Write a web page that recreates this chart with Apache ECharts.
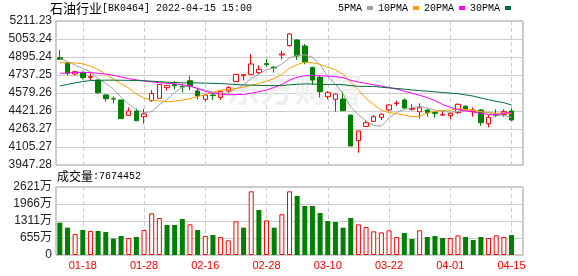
<!DOCTYPE html>
<html><head><meta charset="utf-8">
<script src="https://cdn.jsdelivr.net/npm/echarts@6/dist/echarts.min.js"></script>
<style>html,body{margin:0;padding:0;background:#fff}#c{width:578px;height:276px}</style>
</head><body><div id="c"></div>
<script>
const dates = ['01-13','01-14','01-17','01-18','01-19','01-20','01-21','01-24','01-25','01-26','01-27','01-28',
  '02-07','02-08','02-09','02-10','02-11','02-14','02-15','02-16','02-17','02-18','02-21','02-22','02-23','02-24','02-25','02-28',
  '03-01','03-02','03-03','03-04','03-07','03-08','03-09','03-10','03-11','03-14','03-15','03-16','03-17','03-18','03-21','03-22','03-23','03-24','03-25','03-28','03-29','03-30','03-31',
  '04-01','04-06','04-07','04-08','04-11','04-12','04-13','04-14','04-15'];
const opens  = [4889,4845,4746,4761,4717,4693,4562,4529,4518,4383,4421,4371,4512,4532,4626,4652,4638,4687,4597,4524,4562,4541,4597,4679,4731,4743,4758,4837,4807,4913,4995,5044,4992,4804,4717,4547,4524,4526,4386,4161,4286,4330,4366,4430,4488,4518,4436,4415,4430,4410,4386,4380,4407,4462,4415,4430,4310,4392,4392,4421];
const closes = [4875,4752,4766,4714,4723,4582,4529,4526,4354,4421,4336,4395,4576,4655,4646,4643,4632,4635,4553,4562,4556,4591,4626,4743,4740,4834,4787,4828,4799,4922,5097,4904,4848,4693,4591,4582,4570,4424,4114,4246,4318,4371,4392,4474,4491,4448,4442,4450,4404,4401,4392,4401,4480,4439,4430,4319,4366,4383,4415,4342];
const lows   = [4872,4734,4734,4699,4693,4570,4503,4488,4354,4383,4336,4310,4503,4532,4600,4611,4585,4605,4524,4503,4518,4518,4582,4679,4690,4743,4746,4810,4758,4875,4986,4869,4831,4649,4541,4524,4415,4424,4114,4055,4280,4325,4342,4424,4465,4442,4424,4354,4371,4363,4377,4348,4395,4430,4371,4292,4278,4371,4371,4336];
const highs  = [4957,4851,4775,4766,4752,4699,4570,4547,4518,4453,4444,4439,4605,4655,4649,4684,4658,4728,4620,4570,4576,4600,4640,4743,4743,4922,4822,4875,4810,4951,5103,5050,5009,4810,4737,4597,4575,4591,4386,4246,4342,4386,4401,4480,4512,4532,4482,4488,4436,4413,4430,4407,4488,4474,4453,4436,4386,4436,4436,4444];
// volume in 万
const volumes = [1246,1054,810,964,925,925,887,630,732,655,694,964,1606,1426,1157,1157,1388,1182,964,732,771,694,565,1298,1054,2454,1735,1336,1054,1568,2454,2274,1889,1889,1619,1311,1272,1054,1426,1182,1079,912,874,951,694,848,617,951,694,732,655,655,758,694,578,694,655,758,694,767];
const ma5  = [4883,4855,4825,4795,4766,4707,4663,4615,4543,4482,4433,4406,4416,4477,4522,4583,4630,4642,4621,4605,4588,4579,4578,4616,4651,4706,4746,4786,4797,4834,4887,4910,4914,4893,4827,4724,4657,4572,4456,4387,4334,4295,4288,4360,4409,4435,4449,4461,4447,4429,4418,4410,4416,4423,4428,4414,4407,4387,4383,4365];
const ma10 = [4845,4845,4843,4835,4815,4785,4745,4700,4660,4624,4570,4535,4516,4510,4502,4508,4518,4529,4549,4564,4586,4605,4610,4619,4629,4647,4663,4682,4707,4743,4797,4828,4850,4845,4830,4805,4783,4743,4674,4607,4529,4476,4430,4408,4398,4385,4372,4375,4404,4419,4427,4430,4438,4435,4428,4416,4408,4402,4403,4397];
const ma20 = [4752,4755,4760,4760,4758,4752,4746,4735,4720,4705,4695,4684,4676,4670,4665,4660,4652,4640,4618,4594,4578,4570,4563,4565,4566,4578,4591,4606,4628,4654,4692,4717,4731,4732,4730,4727,4723,4713,4691,4675,4663,4652,4640,4627,4614,4595,4578,4559,4539,4513,4478,4453,4434,4422,4413,4400,4390,4388,4403,4408];
const ma30 = [4641,4655,4668,4680,4688,4690,4692,4692,4691,4690,4689,4687,4683,4679,4674,4670,4669,4668,4668,4666,4664,4662,4658,4654,4650,4648,4646,4645,4644,4644,4651,4656,4659,4658,4654,4654,4655,4652,4644,4638,4637,4637,4630,4624,4619,4613,4606,4600,4595,4590,4584,4578,4573,4563,4552,4535,4521,4506,4494,4474];
const priceTickLabels = ['3947.28','4105.27','4263.27','4421.26','4579.26','4737.25','4895.24','5053.24','5211.23'];
const volumeTickLabels = ['0','655万','1311万','1966万','2621万'];

const PMIN = 3947.28, PMAX = 5211.23, PSTEP = (PMAX - PMIN) / 8;
const VMAX = 2621.4, VSTEP = VMAX / 4;
const cats = dates.concat(['']);
const kData = dates.map((d, i) => [opens[i], closes[i], lows[i], highs[i]]);
const volData = volumes.map((v, i) => {
  const up = i > 0 && closes[i] > closes[i - 1];
  return { value: v, itemStyle: up ? { color: '#fff', borderColor: '#ff0000', borderWidth: 1 } : { color: '#008000', borderColor: '#008000', borderWidth: 0 } };
});
const showIdx = (i) => i % 8 === 3;
const sans = 'Liberation Sans, Noto Sans CJK SC, sans-serif';

const chart = echarts.init(document.getElementById('c'), null, { renderer: 'canvas' });
const maLine = (name, data, color) => ({
  name, type: 'line', data, xAxisIndex: 0, yAxisIndex: 0, symbol: 'none', showSymbol: false,
  color, lineStyle: { width: 1, color }, z: 5, animation: false
});
const richTitle = (cjkSize) => ({
  fontWeight: 'normal',
  rich: {
    a: { fontFamily: 'Noto Sans CJK SC', fontSize: cjkSize, color: '#000', fontWeight: 'normal' },
    b: { fontFamily: 'Liberation Mono', fontSize: 10, color: '#000', fontWeight: 'normal' }
  }
});
chart.setOption({
  animation: false,
  title: [
    { text: '{a|石油行业}{b|[BK0464] 2022-04-15 15:00}', left: 50, top: 2, padding: 0, textStyle: richTitle(13) },
    { text: '{a|成交量}{b|:7674452}', left: 57, top: 170, padding: 0, textStyle: richTitle(12) }
  ],
  legend: {
    data: ['5PMA', '10PMA', '20PMA', '30PMA'], left: 338, top: 3, align: 'right', padding: 0,
    icon: 'rect', itemWidth: 6, itemHeight: 4, itemGap: 5,
    textStyle: { fontFamily: 'Liberation Mono', fontSize: 10, color: '#000' }
  },
  graphic: [{ type: 'text', left: 226, top: 72, z: 1, silent: true,
    style: { text: '东方财富', font: 'bold 34px "Noto Sans CJK SC"', fill: '#f0f0f0' } }],
  grid: [
    { left: 56, right: 55, top: 21, height: 144, show: true, borderColor: '#999', borderWidth: 1 },
    { left: 56, right: 55, top: 187, height: 68, show: true, borderColor: '#999', borderWidth: 1 }
  ],
  xAxis: [
    { type: 'category', data: cats, gridIndex: 0, boundaryGap: true,
      axisLine: { show: false }, axisTick: { show: false }, axisLabel: { show: false },
      splitLine: { show: true, interval: showIdx, alignWithLabel: true, lineStyle: { color: '#ccc', type: [4, 3] } } },
    { type: 'category', data: cats, gridIndex: 1, boundaryGap: true,
      axisLine: { show: false }, axisTick: { show: false },
      axisLabel: { show: true, interval: showIdx, color: '#ff0000', fontFamily: sans, fontSize: 11, margin: 5 },
      splitLine: { show: true, interval: showIdx, alignWithLabel: true, lineStyle: { color: '#ccc', type: [4, 3] } } }
  ],
  yAxis: [
    { type: 'value', gridIndex: 0, min: PMIN, max: PMAX, interval: PSTEP, scale: true,
      axisLine: { show: false }, axisTick: { show: false },
      axisLabel: { color: '#222', fontFamily: sans, fontSize: 12, margin: 4,
        formatter: (v) => priceTickLabels[Math.round((v - PMIN) / PSTEP)] || '' },
      splitLine: { lineStyle: { color: '#ccc', width: 1 } } },
    { type: 'value', gridIndex: 1, min: 0, max: VMAX, interval: VSTEP,
      axisLine: { show: false }, axisTick: { show: false },
      axisLabel: { color: '#222', fontFamily: sans, fontSize: 12, margin: 4,
        formatter: (v) => volumeTickLabels[Math.round(v / VSTEP)] || '' },
      splitLine: { lineStyle: { color: '#ccc', width: 1 } } }
  ],
  series: [
    { name: 'K', type: 'candlestick', data: kData, xAxisIndex: 0, yAxisIndex: 0, barWidth: 5, z: 3,
      itemStyle: { color: '#fff', color0: '#008000', borderColor: '#ff0000', borderColor0: '#008000', borderWidth: 1 } },
    maLine('5PMA', ma5, '#a0a0a0'),
    maLine('10PMA', ma10, '#f5a100'),
    maLine('20PMA', ma20, '#ff00ff'),
    maLine('30PMA', ma30, '#00693a'),
    { name: 'VOL', type: 'bar', data: volData, xAxisIndex: 1, yAxisIndex: 1, barWidth: 5 }
  ]
});
</script></body></html>
